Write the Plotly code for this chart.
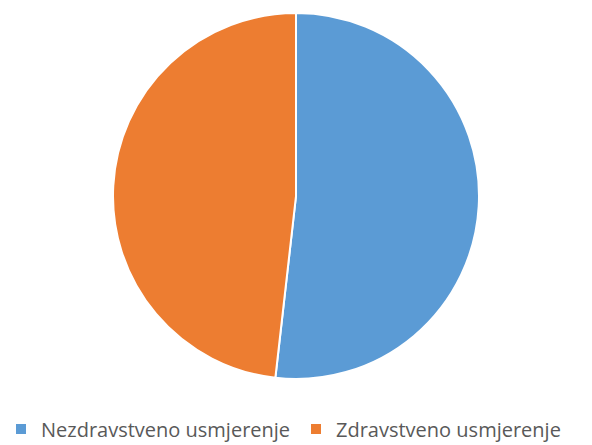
import plotly.graph_objects as go

labels = ["Nezdravstveno usmjerenje", "Zdravstveno usmjerenje"]
values = [51.8, 48.2]
colors = ["#5B9BD5", "#ED7D31"]

fig = go.Figure(go.Pie(
    labels=labels,
    values=values,
    sort=False,
    direction="clockwise",
    rotation=0,
    marker=dict(colors=colors, line=dict(color="white", width=2)),
    textinfo="none",
    hoverinfo="label+percent",
))

fig.update_layout(
    width=592,
    height=445,
    margin=dict(l=0, r=0, t=13, b=66),
    paper_bgcolor="white",
    plot_bgcolor="white",
    showlegend=True,
    legend=dict(
        orientation="h",
        x=0.5,
        xanchor="center",
        xref="container",
        y=0.036,
        yanchor="middle",
        yref="container",
        font=dict(family="Open Sans", size=20, color="#595959"),
        itemwidth=30,
        entrywidth=250,
        borderwidth=0,
    ),
)

fig.write_html("out.html", config={"displayModeBar": False},
               post_script="document.body.style.margin='0';")
